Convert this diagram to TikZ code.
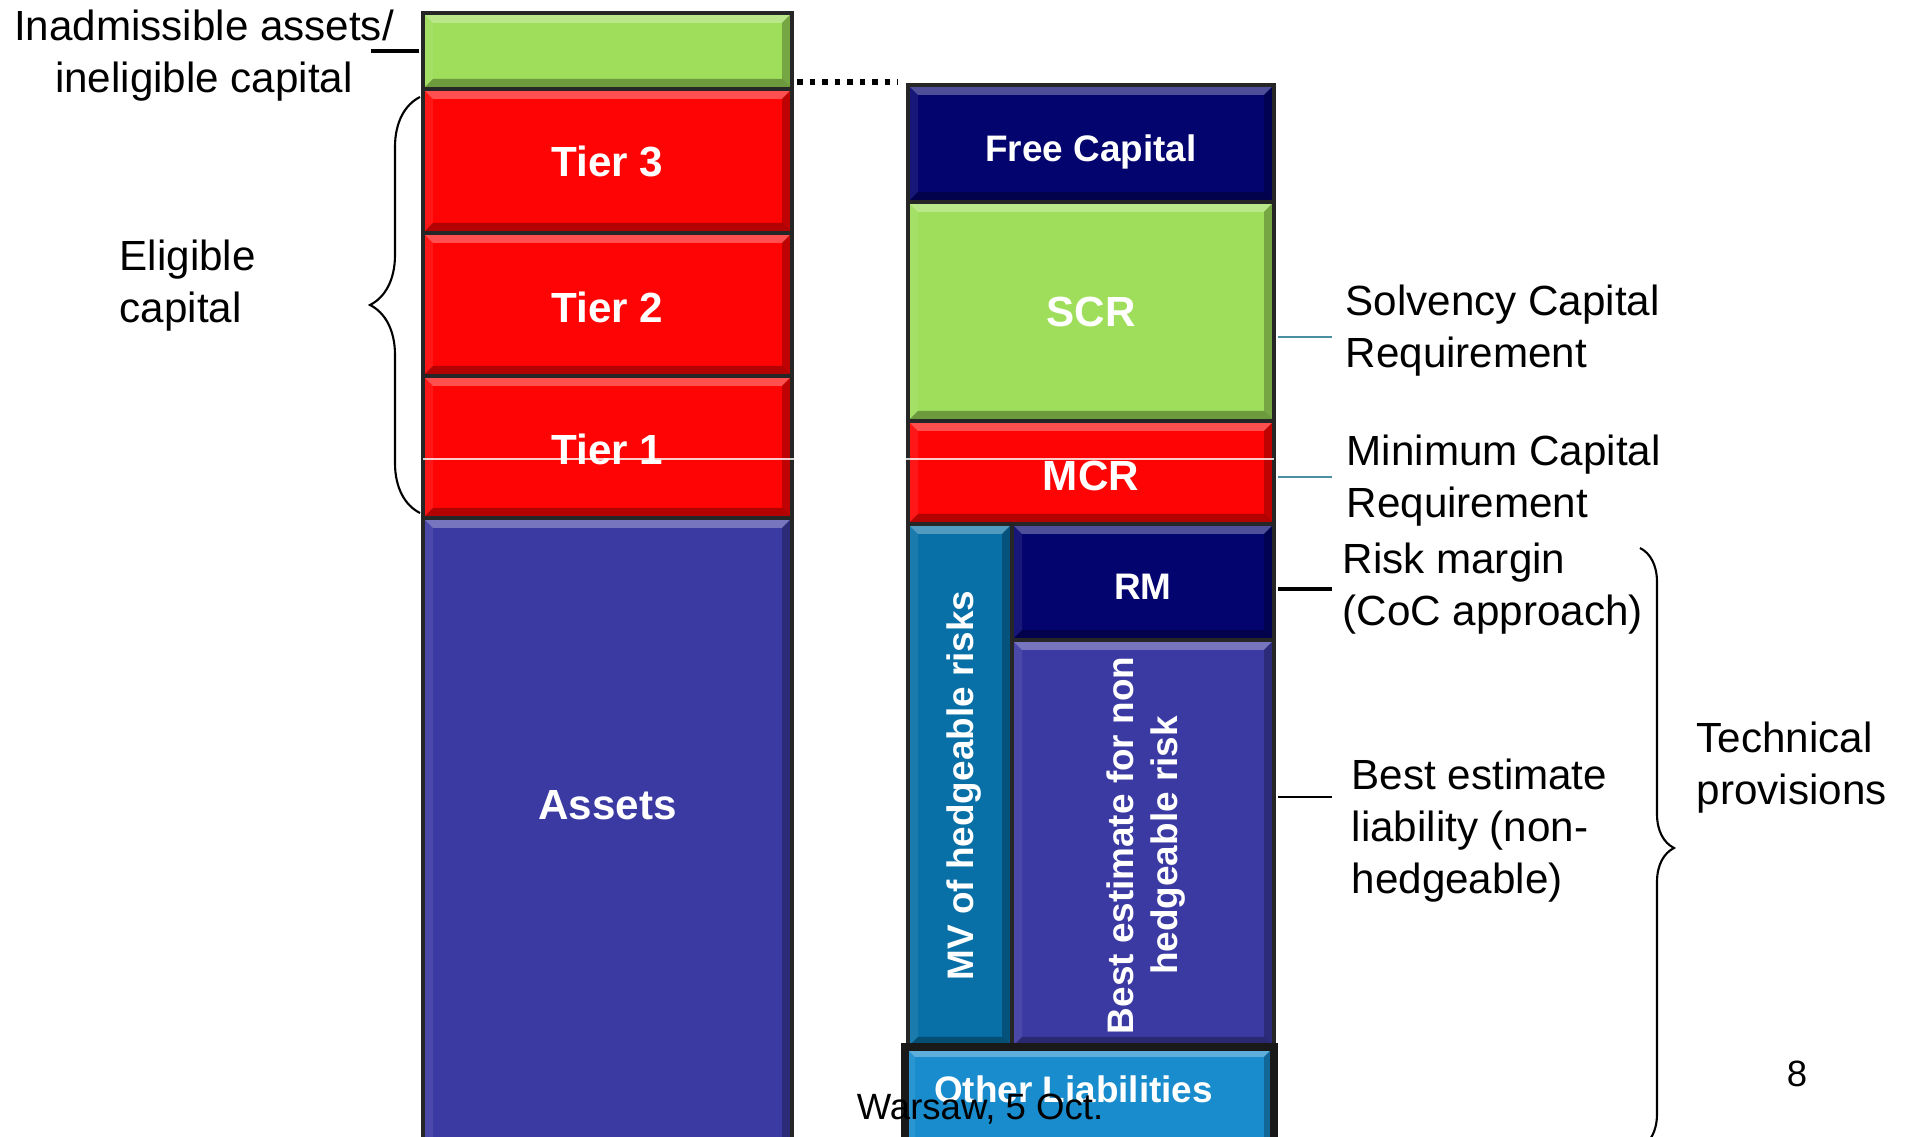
\documentclass[tikz,border=0pt]{standalone}
\usepackage{fontspec}
\setmainfont{Liberation Sans}
\usepackage{tikz}
\usetikzlibrary{positioning}
\usetikzlibrary{calc}
\usetikzlibrary{decorations.pathreplacing}

\definecolor{capgreen}{RGB}{158,222,90}
\definecolor{capred}{RGB}{255,4,4}
\definecolor{capnavy}{RGB}{4,4,110}
\definecolor{capblue}{RGB}{59,58,163}
\definecolor{hedgeblue}{RGB}{8,112,166}
\definecolor{otherblue}{RGB}{24,140,204}
\definecolor{tieteal}{RGB}{74,144,160}

\tikzset{
  slab/.style={rectangle, draw=black!85, line width=1.1pt, inner sep=0pt, outer sep=0pt,
    text=white, text depth=0pt, font=\bfseries\fontsize{12}{14}\selectfont,
    path picture={
      \fill[white,opacity=.3] (path picture bounding box.north west) -- (path picture bounding box.north east)
        -- ([shift={(-1mm,-1mm)}]path picture bounding box.north east) -- ([shift={(1mm,-1mm)}]path picture bounding box.north west) -- cycle;
      \fill[black,opacity=.3] (path picture bounding box.south west) -- (path picture bounding box.south east)
        -- ([shift={(-1mm,1mm)}]path picture bounding box.south east) -- ([shift={(1mm,1mm)}]path picture bounding box.south west) -- cycle;
      \fill[black,opacity=.25] (path picture bounding box.north east) -- (path picture bounding box.south east)
        -- ([shift={(-1mm,1mm)}]path picture bounding box.south east) -- ([shift={(-1mm,-1mm)}]path picture bounding box.north east) -- cycle;
      \fill[white,opacity=.08] (path picture bounding box.north west) -- (path picture bounding box.south west)
        -- ([shift={(1mm,1mm)}]path picture bounding box.south west) -- ([shift={(1mm,-1mm)}]path picture bounding box.north west) -- cycle;
    }},
  small slab/.style={slab, font=\bfseries\fontsize{10.5}{12.6}\selectfont},
  low text/.style={text height=10pt},
  slab label/.style={text=white, font=\bfseries\fontsize{10.5}{12.6}\selectfont, inner sep=0pt, align=center},
  note/.style={inner sep=0pt, align=left, font=\fontsize{12}{14.8}\selectfont},
  tie/.style={line width=1pt, shorten <=0.4mm},
  teal tie/.style={draw=tieteal, line width=0.6pt, shorten <=0.4mm},
  brace line/.style={line width=0.6pt, decorate}
}

\begin{document}
\begin{tikzpicture}[x=0.1mm, y=-0.1mm]
\useasboundingbox (0,0) rectangle (1908,1137);

% own funds side
\node[slab, fill=capgreen, minimum width=36.9mm, minimum height=7.6mm] (inad) at (607.5,51) {};
\node[slab, fill=capred, minimum width=36.9mm, minimum height=14.4mm, below=0pt of inad] (tier3) {Tier 3};
\node[slab, low text, fill=capred, minimum width=36.9mm, minimum height=14.3mm, below=0pt of tier3] (tier2) {Tier 2};
\node[slab, low text, fill=capred, minimum width=36.9mm, minimum height=14.2mm, below=0pt of tier2] (tier1) {Tier 1};
\node[slab, fill=capblue, minimum width=36.9mm, minimum height=63.2mm, below=0pt of tier1] (assets) {};
\node[slab label, font=\bfseries\fontsize{12}{14}\selectfont] (assetslbl) at ($(assets.north)+(0,287)$) {Assets};

% requirements side
\node[small slab, low text, fill=capnavy, minimum width=36.6mm, minimum height=11.7mm] (free) at (1091,143.5) {Free Capital};
\node[slab, fill=capgreen, minimum width=36.6mm, minimum height=21.9mm, below=0pt of free] (scr) {SCR};
\node[slab, low text, fill=capred, minimum width=36.6mm, minimum height=10.3mm, below=0pt of scr] (mcr) {MCR};
\node[small slab, fill=hedgeblue, minimum width=10.4mm, minimum height=52.3mm, anchor=north west] (mv) at (mcr.south west) {};
\node[small slab, low text, fill=capnavy, minimum width=26.2mm, minimum height=11.6mm, anchor=north east] (rm) at (mcr.south east) {RM};
\node[small slab, fill=capblue, minimum width=26.2mm, minimum height=40.7mm, below=0pt of rm] (be) {};
\node[small slab, fill=otherblue, draw=black!90, line width=2.4pt, minimum width=36.9mm, minimum height=10.3mm, anchor=north east] (other) at (be.south east) {};

\node[slab label, rotate=90] (mvlbl) at ($(mv)+(4,0)$) {MV of hedgeable risks};
\node[slab label, rotate=90] (belbl) at ($(be)+(3,2)$) {Best estimate for non\\hedgeable risk};
\node[slab label] (otherlbl) at ($(other.north)+(-16,42)$) {Other Liabilities};

\draw[white, line width=0.3pt, opacity=.8] (tier1.west |- 0,459) -- (mcr.east |- 0,459);

% captions
\node[note, align=center] (inadtxt) at (204,56) {Inadmissible assets/\\ineligible capital};
\node[note, anchor=west] (eligtxt) at (119,286) {Eligible\\capital};
\node[note, anchor=west] (scrtxt) at (1345,331) {Solvency Capital\\Requirement};
\node[note, anchor=west] (mcrtxt) at (1346,481) {Minimum Capital\\Requirement};
\node[note, anchor=west] (rmtxt) at (1342,589) {Risk margin\\(CoC approach)};
\node[note, anchor=west] (betxt) at (1351,831) {Best estimate\\liability (non-\\hedgeable)};
\node[note, anchor=west] (tptxt) at (1696,768) {Technical\\provisions};
\node[font=\fontsize{10.4}{12}\selectfont, inner sep=0pt] (pageno) at (1797,1074) {8};
\node[font=\fontsize{10.4}{12}\selectfont, inner sep=0pt] (venue) at (980,1109) {Warsaw, 5 Oct.};

\coordinate (inadtie) at (371,51);
\coordinate (scrtie) at (1332,337);
\coordinate (mcrtie) at (1332,477);
\coordinate (rmtie) at (1332,589);
\coordinate (betie) at (1332,797);
\coordinate (eligtop) at (420,97);
\coordinate (eligbot) at (420,513);
\coordinate (tptop) at (1640,548);
\coordinate (tpbot) at (1640,1148);

\draw[tie] (inad.west) -- (inadtie);
\draw[teal tie] (scr.east |- scrtie) -- (scrtie);
\draw[teal tie] (mcr.east |- mcrtie) -- (mcrtie);
\draw[tie] (rm.east |- rmtie) -- (rmtie);
\draw[tie, line width=.6pt] (be.east |- betie) -- (betie);

\draw[line width=1.7pt, dash pattern=on 0.55mm off 0.7mm, shorten <=0.5mm, shorten >=1mm] ([yshift=0.3mm]inad.south east |- free.north) -- ([yshift=0.3mm]free.north west);

\draw[brace line, decoration={brace, amplitude=5mm}] (eligbot) -- (eligtop);
\draw[brace line, decoration={brace, amplitude=3.4mm}] (tptop) -- (tpbot);
\end{tikzpicture}
\end{document}
